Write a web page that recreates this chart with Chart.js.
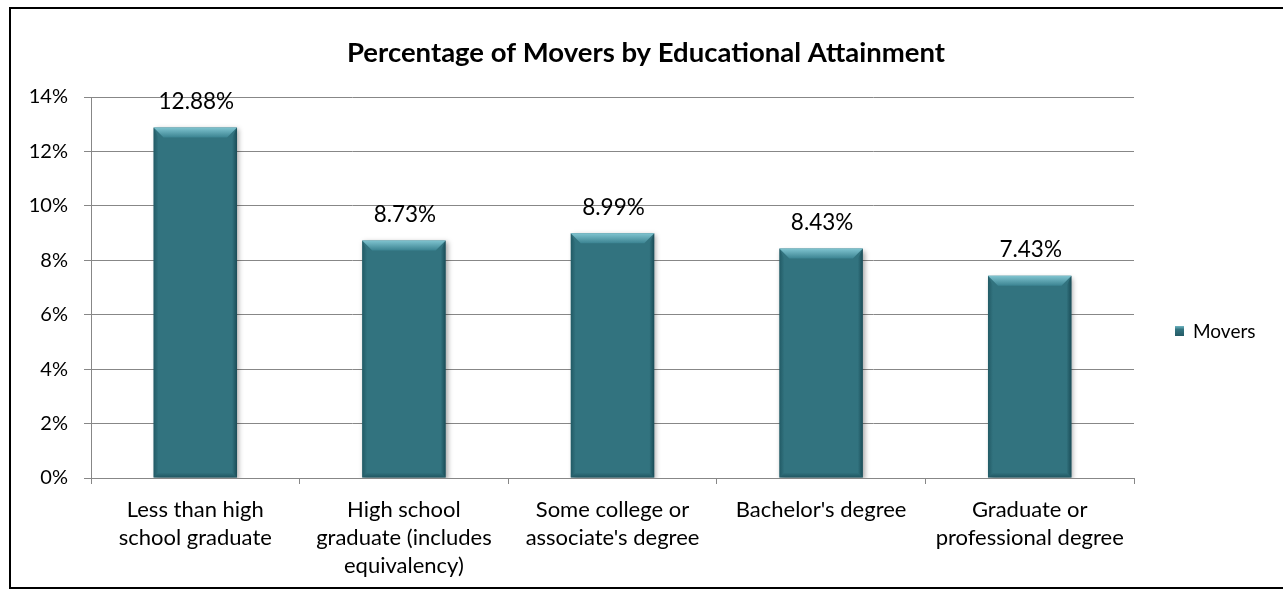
<!DOCTYPE html>
<html>
<head>
<meta charset="utf-8">
<title>Percentage of Movers by Educational Attainment</title>
<script src="https://cdn.jsdelivr.net/npm/chart.js@4.4.1/dist/chart.umd.min.js"></script>
<style>
  html, body { margin: 0; padding: 0; background: #ffffff; }
  #wrap { width: 1283px; height: 598px; }
</style>
</head>
<body>
<div id="wrap"><canvas id="chart" width="1283" height="598"></canvas></div>
<script>
// Education levels shown along the horizontal axis
const categories = [
  ['Less than high', 'school graduate'],
  ['High school', 'graduate (includes', 'equivalency)'],
  ['Some college or', "associate's degree"],
  ["Bachelor's degree"],
  ['Graduate or', 'professional degree']
];
// Share of people who moved, in percent
const seriesName = 'Movers';
const moverPct = [12.88, 8.73, 8.99, 8.43, 7.43];
// Value axis
const yTickMax = 14;
const yTickStep = 2;

const chartTitle = 'Percentage of Movers by Educational Attainment';

const FONT = 'Lato, "Liberation Sans", sans-serif';
const BAR_COLOR = '#32737f';
const GRID_COLOR = '#878787';

// Outer frame, white background and the heading centred on the whole frame
const framePlugin = {
  id: 'frame',
  beforeDraw(chart) {
    const c = chart.ctx;
    c.save();
    c.fillStyle = '#ffffff';
    c.fillRect(0, 0, chart.width, chart.height);
    c.restore();
  },
  afterDraw(chart) {
    const c = chart.ctx;
    c.save();
    c.strokeStyle = '#000000';
    c.lineWidth = 2;
    c.strokeRect(10, 8, chart.width + 20, 580);
    c.fillStyle = '#000000';
    c.font = 'bold 27.5px ' + FONT;
    c.textAlign = 'center';
    c.textBaseline = 'middle';
    c.fillText(chartTitle, 646, 53);
    c.restore();
  }
};

// Soft drop shadow under the bars
const shadowPlugin = {
  id: 'barShadow',
  beforeDatasetDraw(chart) {
    const c = chart.ctx;
    c.save();
    c.shadowColor = 'rgba(0,0,0,0.35)';
    c.shadowBlur = 5;
    c.shadowOffsetX = 2;
    c.shadowOffsetY = 2;
  },
  afterDatasetDraw(chart) {
    chart.ctx.restore();
  }
};

// Bevelled edges on each bar plus the value label above it
const bevelPlugin = {
  id: 'bevel',
  afterDatasetsDraw(chart) {
    const c = chart.ctx;
    const meta = chart.getDatasetMeta(0);
    const values = chart.data.datasets[0].data;
    meta.data.forEach((bar, i) => {
      const p = bar.getProps(['x', 'y', 'base', 'width'], true);
      const L = p.x - p.width / 2, R = p.x + p.width / 2;
      const T = p.y, B = p.base;
      const b = 10, s = 5;
      c.save();
      // top face
      const g = c.createLinearGradient(0, T, 0, T + b);
      g.addColorStop(0, '#80c4d0');
      g.addColorStop(1, '#3b8391');
      c.fillStyle = g;
      c.beginPath();
      c.moveTo(L, T); c.lineTo(R, T); c.lineTo(R - b, T + b); c.lineTo(L + b, T + b);
      c.closePath(); c.fill();
      // left face
      const gl = c.createLinearGradient(L, 0, L + s, 0);
      gl.addColorStop(0, 'rgba(20,70,80,0.55)');
      gl.addColorStop(1, 'rgba(20,70,80,0)');
      c.fillStyle = gl;
      c.beginPath();
      c.moveTo(L, T); c.lineTo(L + s, T + b); c.lineTo(L + s, B - s); c.lineTo(L, B);
      c.closePath(); c.fill();
      // right face
      const gr = c.createLinearGradient(R - s, 0, R, 0);
      gr.addColorStop(0, 'rgba(10,50,60,0)');
      gr.addColorStop(1, 'rgba(10,50,60,0.6)');
      c.fillStyle = gr;
      c.beginPath();
      c.moveTo(R, T); c.lineTo(R - s, T + b); c.lineTo(R - s, B - s); c.lineTo(R, B);
      c.closePath(); c.fill();
      // bottom face
      const gb = c.createLinearGradient(0, B - s, 0, B);
      gb.addColorStop(0, 'rgba(10,50,60,0)');
      gb.addColorStop(1, 'rgba(10,50,60,0.45)');
      c.fillStyle = gb;
      c.beginPath();
      c.moveTo(L, B); c.lineTo(R, B); c.lineTo(R - s, B - s); c.lineTo(L + s, B - s);
      c.closePath(); c.fill();
      c.restore();

      // value label
      c.save();
      c.fillStyle = '#000000';
      c.font = '22.5px ' + FONT;
      c.textAlign = 'center';
      c.textBaseline = 'middle';
      c.fillText(values[i].toFixed(2) + '%', p.x + 1, T - 26);
      c.restore();
    });
  }
};

// Legend entry on the right side
const legendPlugin = {
  id: 'sideLegend',
  afterDraw(chart) {
    const c = chart.ctx;
    const ds = chart.data.datasets[0];
    const bx = 1175, by = 326, bw = 9, bh = 10;
    c.save();
    const g = c.createLinearGradient(bx, by, bx, by + bh);
    g.addColorStop(0, '#6fb5c2');
    g.addColorStop(0.35, BAR_COLOR);
    g.addColorStop(1, '#245a65');
    c.fillStyle = g;
    c.fillRect(bx, by, bw, bh);
    c.fillStyle = '#000000';
    c.font = '19px ' + FONT;
    c.textAlign = 'left';
    c.textBaseline = 'middle';
    c.fillText(ds.label, 1193, by + bh / 2 + 0.5);
    c.restore();
  }
};

new Chart(document.getElementById('chart'), {
  type: 'bar',
  data: {
    labels: categories,
    datasets: [{
      label: seriesName,
      data: moverPct,
      backgroundColor: BAR_COLOR,
      borderWidth: 0,
      categoryPercentage: 1.0,
      barPercentage: 0.4
    }]
  },
  options: {
    responsive: false,
    animation: false,
    events: [],
    layout: { padding: { left: 0, right: 149, top: 97, bottom: 0 } },
    plugins: {
      legend: { display: false },
      tooltip: { enabled: false },
      title: { display: false }
    },
    scales: {
      x: {
        offset: true,
        grid: {
          display: true,
          offset: true,
          drawOnChartArea: false,
          drawTicks: true,
          tickLength: 6,
          color: GRID_COLOR,
          lineWidth: 1
        },
        border: { display: true, color: GRID_COLOR, width: 1 },
        ticks: {
          color: '#000000',
          padding: 12,
          maxRotation: 0,
          autoSkip: false,
          font: { family: FONT, size: 22, lineHeight: 1.28 }
        },
        afterFit(scale) { scale.height = 120; }
      },
      y: {
        min: 0,
        max: yTickMax,
        grid: {
          color: GRID_COLOR,
          lineWidth: 1,
          drawTicks: true,
          tickLength: 7
        },
        border: { display: true, color: GRID_COLOR, width: 1 },
        ticks: {
          stepSize: yTickStep,
          color: '#000000',
          padding: 16,
          font: { family: FONT, size: 20 },
          callback: (v) => v + '%'
        },
        afterFit(scale) { scale.width = 91; }
      }
    }
  },
  plugins: [framePlugin, shadowPlugin, bevelPlugin, legendPlugin]
});
</script>
</body>
</html>
